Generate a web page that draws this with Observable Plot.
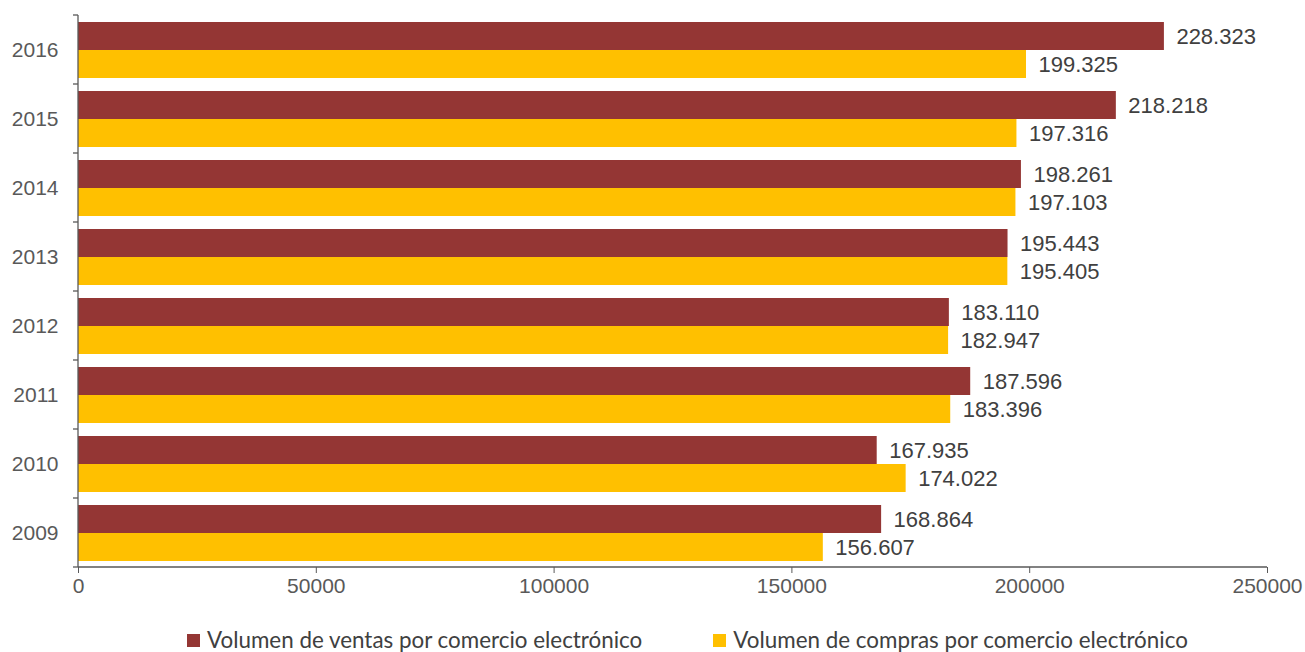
<!DOCTYPE html>
<html>
<head>
<meta charset="utf-8">
<script src="https://cdn.jsdelivr.net/npm/d3@7"></script>
<script src="https://cdn.jsdelivr.net/npm/@observablehq/plot@0.6"></script>
<style>
  body { margin: 0; background: #fff; }
  #wrap { position: relative; width: 1305px; height: 652px; }
  #legend { position: absolute; top: 625px; left: 187px; display: flex; align-items: center;
    font-family: Lato, "Open Sans", sans-serif; font-size: 22.4px; color: #404040; line-height: 30px; white-space: nowrap; }
  .item { display: flex; align-items: center; }
  .sw { width: 13px; height: 13px; margin-right: 7px; }
</style>
</head>
<body>
<div id="wrap"></div>
<script>
const years = ["2016", "2015", "2014", "2013", "2012", "2011", "2010", "2009"];
const ventas = [228323, 218218, 198261, 195443, 183110, 187596, 167935, 168864];
const compras = [199325, 197316, 197103, 195405, 182947, 183396, 174022, 156607];
const series = ["Volumen de ventas por comercio electrónico", "Volumen de compras por comercio electrónico"];
const colors = ["#943634", "#FFC000"];
const xTicks = [0, 50000, 100000, 150000, 200000, 250000];

const data = years.flatMap((y, i) => [
  {year: y, serie: series[0], value: ventas[i]},
  {year: y, serie: series[1], value: compras[i]}
]);
const fmt = d3.formatLocale({decimal: ",", thousands: ".", grouping: [3], currency: ["", ""]}).format(",d");

const chart = Plot.plot({
  width: 1305, height: 615,
  marginLeft: 78, marginRight: 38, marginTop: 15, marginBottom: 48,
  style: {fontFamily: "'Liberation Sans', Arial, sans-serif", fontSize: "21px", color: "#595959", background: "#fff"},
  x: {domain: [0, 250000], label: null},
  y: {domain: series, paddingInner: 0, paddingOuter: 0.232, axis: null},
  fy: {domain: years, padding: 0, label: null, axis: null},
  color: {domain: series, range: colors},
  marks: [
    Plot.barX(data, {fy: "year", y: "serie", x: "value", fill: "serie"}),
    Plot.text(data, {fy: "year", y: "serie", x: "value", text: d => fmt(d.value), textAnchor: "start", dx: 12, fill: "#404040", fontSize: 22}),
    Plot.axisX({ticks: xTicks, tickFormat: d => String(d), tickSize: 6, tickPadding: 5, fontSize: 21, stroke: "#595959", fill: "#595959", label: null}),
    Plot.axisFy({anchor: "left", tickSize: 0, tickPadding: 20, fontSize: 21, fill: "#595959", label: null})
  ]
});
document.getElementById("wrap").appendChild(chart);

// axis lines and category boundary ticks, positioned via the plot's scales
const sx = chart.scale("x"), sfy = chart.scale("fy");
const xStart = sx.apply(0), xEnd = sx.apply(250000);
const bw = sfy.bandwidth;
const bounds = years.map(y => sfy.apply(y)).concat([sfy.apply(years[years.length - 1]) + bw]);
const yTop = d3.min(bounds), yBottom = d3.max(bounds);
const g = d3.select(chart).append("g").attr("stroke", "#595959").attr("stroke-width", 1.3);
g.append("line").attr("x1", xStart).attr("x2", xStart).attr("y1", yTop).attr("y2", yBottom);
g.append("line").attr("x1", xStart).attr("x2", xEnd).attr("y1", yBottom).attr("y2", yBottom);
g.selectAll(".bt").data(bounds).join("line").attr("x1", xStart - 5).attr("x2", xStart).attr("y1", d => d).attr("y2", d => d);

const legend = document.createElement("div");
legend.id = "legend";
series.forEach((s, i) => {
  const it = document.createElement("div");
  it.className = "item";
  if (i > 0) it.style.marginLeft = "71px";
  it.innerHTML = `<div class="sw" style="background:${colors[i]}"></div><span>${s}</span>`;
  legend.appendChild(it);
});
document.getElementById("wrap").appendChild(legend);
</script>
</body>
</html>
